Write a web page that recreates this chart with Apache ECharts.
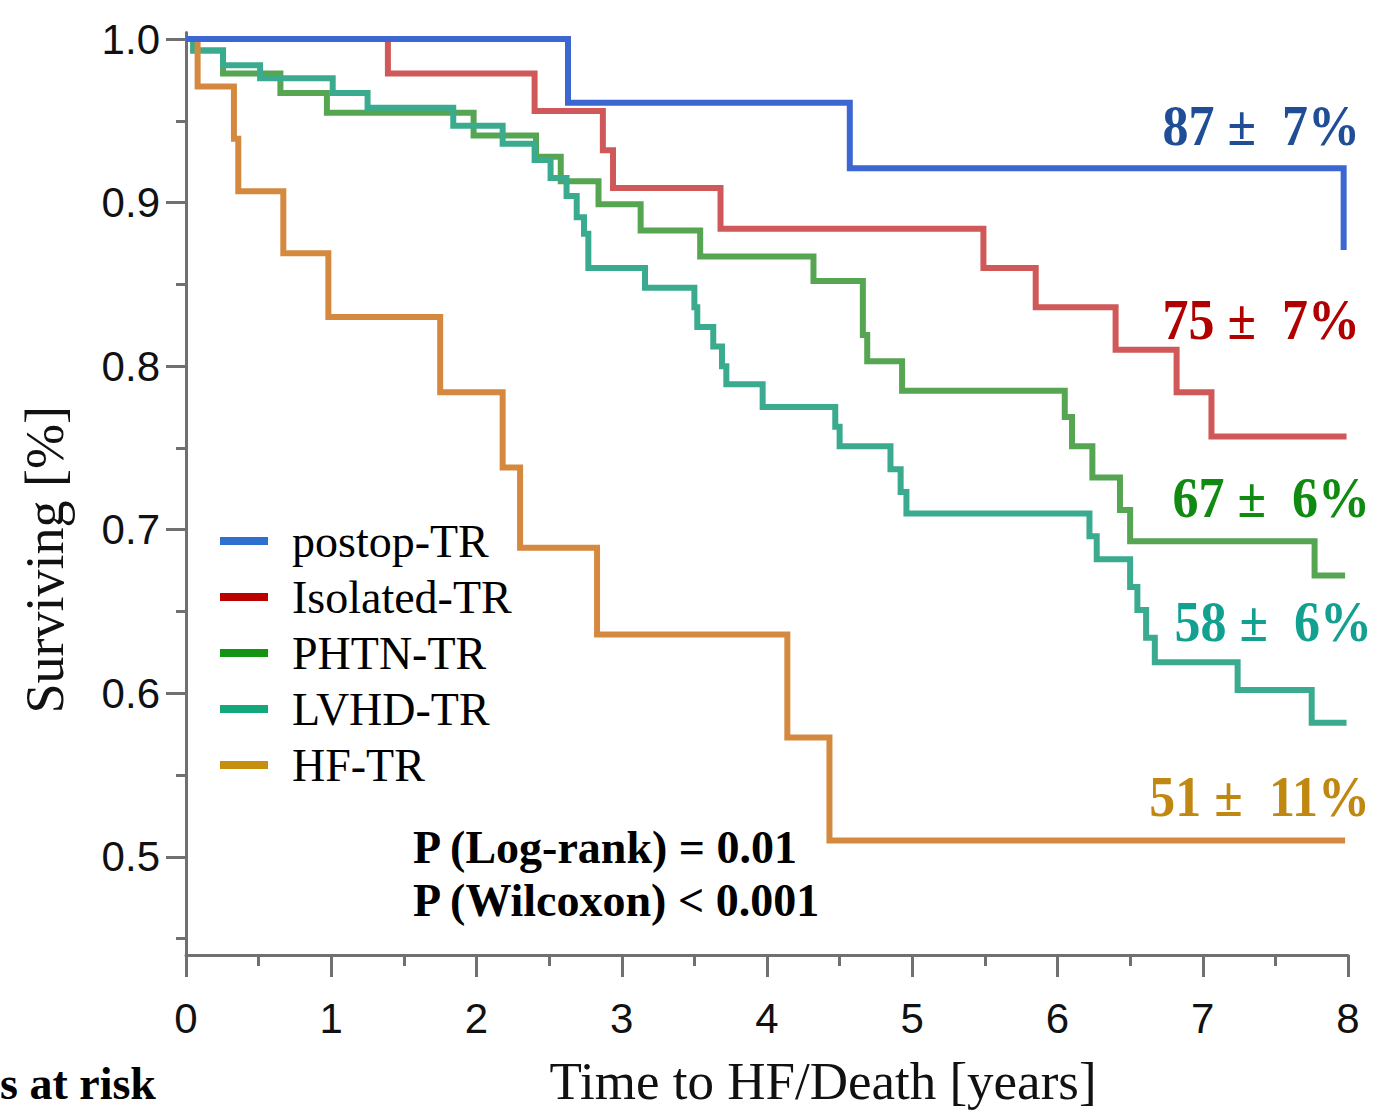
<!DOCTYPE html>
<html>
<head>
<meta charset="utf-8">
<script src="https://cdn.jsdelivr.net/npm/echarts@6/dist/echarts.min.js"></script>
<style>
html,body{margin:0;padding:0;background:#fff;}
#chart{width:1383px;height:1116px;}
</style>
</head>
<body>
<div id="chart"></div>
<script>
// ---- data ----
const categories = ['postop-TR', 'Isolated-TR', 'PHTN-TR', 'LVHD-TR', 'HF-TR'];

const postopTime = [0, 2.63, 4.57, 7.97];
const postopSurv = [1.0, 0.961, 0.921, 0.871];

const isolatedTime = [0, 1.39, 2.40, 2.87, 2.94, 3.68, 5.49, 5.85, 6.40, 6.82, 7.06, 7.99];
const isolatedSurv = [1.0, 0.979, 0.956, 0.932, 0.909, 0.884, 0.860, 0.836, 0.810, 0.784, 0.757, 0.757];

const phtnTime = [0, 0.05, 0.255, 0.65, 0.97, 1.98, 2.41, 2.58, 2.84, 3.13, 3.54, 4.32, 4.66, 4.69, 4.93, 6.05, 6.10, 6.24, 6.43, 6.50, 7.77, 7.98];
const phtnSurv = [1.0, 0.993, 0.979, 0.967, 0.955, 0.941, 0.928, 0.913, 0.899, 0.883, 0.867, 0.852, 0.819, 0.803, 0.785, 0.769, 0.751, 0.732, 0.712, 0.693, 0.672, 0.672];

const lvhdTime = [0, 0.05, 0.255, 0.51, 1.01, 1.25, 1.84, 2.18, 2.40, 2.51, 2.62, 2.69, 2.74, 2.77, 3.16, 3.50, 3.52, 3.63, 3.69, 3.72, 3.97, 4.47, 4.50, 4.85, 4.92, 4.96, 6.22, 6.27, 6.50, 6.55, 6.61, 6.67, 7.24, 7.75, 7.99];
const lvhdSurv = [1.0, 0.993, 0.984, 0.976, 0.967, 0.958, 0.947, 0.936, 0.926, 0.915, 0.904, 0.891, 0.881, 0.860, 0.848, 0.836, 0.824, 0.812, 0.800, 0.789, 0.775, 0.763, 0.751, 0.737, 0.723, 0.710, 0.696, 0.682, 0.665, 0.651, 0.634, 0.619, 0.602, 0.582, 0.582];

const hfTime = [0, 0.08, 0.33, 0.36, 0.67, 0.98, 1.75, 2.18, 2.30, 2.83, 4.14, 4.43, 7.98];
const hfSurv = [1.0, 0.971, 0.939, 0.907, 0.869, 0.830, 0.784, 0.738, 0.689, 0.636, 0.573, 0.510, 0.510];

const yLabelValues = [0.5, 0.6, 0.7, 0.8, 0.9, 1.0];
const yMinorValues = [0.45, 0.55, 0.65, 0.75, 0.85, 0.95];

const endLabels = ['87 ±\u00a0 7%', '75 ±\u00a0 7%', '67 ±\u00a0 6%', '58 ±\u00a0 6%', '51 ±\u00a0 11%'];
const pTexts = ['P (Log-rank) = 0.01', 'P (Wilcoxon) < 0.001'];
const riskText = 's at risk';
const xTitle = 'Time to HF/Death [years]';
const yTitle = 'Surviving [%]';

// ---- styling ----
const lineColors = ['#3c66d2', '#d05858', '#55a552', '#3aab8e', '#d4893f'];
const swatchColors = ['#2e6fd0', '#bb0000', '#139513', '#12a87c', '#c68f10'];
const labelColors = ['#1f4e96', '#b00000', '#118a11', '#12a090', '#c08810'];
const labelPos = [[1360, 126], [1360, 320], [1370, 498], [1372, 622], [1370, 797]];

const times = [postopTime, isolatedTime, phtnTime, lvhdTime, hfTime];
const survs = [postopSurv, isolatedSurv, phtnSurv, lvhdSurv, hfSurv];
const drawOrder = [1, 2, 3, 4, 0];

const axisGray = '#707070';
const serif = 'Liberation Serif';
const sans = 'Liberation Sans';

const series = drawOrder.map(i => ({
  name: categories[i],
  type: 'line',
  step: 'end',
  showSymbol: false,
  symbol: 'none',
  z: 3 + drawOrder.indexOf(i),
  lineStyle: { width: 6, color: lineColors[i], cap: 'butt', join: 'miter' },
  itemStyle: { color: lineColors[i] },
  data: times[i].map((t, k) => [t, survs[i][k]])
}));

const graphics = [];
endLabels.forEach((t, i) => {
  graphics.push({
    type: 'text', x: labelPos[i][0], y: labelPos[i][1], z: 100, scaleY: 1.08,
    style: { text: t, align: 'right', verticalAlign: 'middle', fill: labelColors[i],
             fontFamily: serif, fontWeight: 'bold', fontSize: 52 }
  });
});
pTexts.forEach((t, i) => {
  graphics.push({
    type: 'text', x: 413, y: 847 + i * 53, z: 100,
    style: { text: t, align: 'left', verticalAlign: 'middle', fill: '#000',
             fontFamily: serif, fontWeight: 'bold', fontSize: 46 }
  });
});
graphics.push({
  type: 'text', x: 0, y: 1083, z: 100,
  style: { text: riskText, align: 'left', verticalAlign: 'middle', fill: '#000',
           fontFamily: serif, fontWeight: 'bold', fontSize: 46 }
});

const chart = echarts.init(document.getElementById('chart'), null, { renderer: 'svg' });
chart.setOption({
  animation: false,
  backgroundColor: '#fff',
  grid: { left: 186, right: 35, top: 32.5, bottom: 161, containLabel: false },
  legend: {
    orient: 'vertical',
    left: 220,
    top: 518,
    padding: 0,
    itemWidth: 48,
    itemHeight: 8,
    itemGap: 10,
    icon: 'rect',
    selectedMode: false,
    textStyle: { fontFamily: serif, fontSize: 46, lineHeight: 44, color: '#000', padding: [0, 0, 0, 19] },
    data: categories.map((c, i) => ({ name: c, icon: 'rect', itemStyle: { color: swatchColors[i] } }))
  },
  xAxis: {
    type: 'value', min: 0, max: 8, interval: 1,
    name: xTitle, nameLocation: 'middle', nameGap: 99,
    nameTextStyle: { fontFamily: serif, fontSize: 53, color: '#111', padding: [0, 0, 0, 112] },
    axisLine: { show: true, onZero: false, lineStyle: { color: axisGray, width: 3 } },
    axisTick: { show: true, inside: false, length: 22, lineStyle: { color: axisGray, width: 3 } },
    minorTick: { show: true, splitNumber: 2, length: 11, lineStyle: { color: axisGray, width: 3 } },
    splitLine: { show: false },
    minorSplitLine: { show: false },
    axisLabel: { margin: 42, fontFamily: sans, fontSize: 42, color: '#111' }
  },
  yAxis: [{
    type: 'value', min: 0.44, max: 1.004, position: 'left',
    name: yTitle, nameLocation: 'middle', nameGap: 114, nameRotate: 90,
    nameTextStyle: { fontFamily: serif, fontSize: 54, color: '#111', padding: [0, 132, 0, 0] },
    axisLine: { show: true, onZero: false, lineStyle: { color: axisGray, width: 3 } },
    axisTick: { show: true, inside: false, length: 20, customValues: yLabelValues, lineStyle: { color: axisGray, width: 3 } },
    splitLine: { show: false },
    axisLabel: { margin: 26, fontFamily: sans, fontSize: 42, color: '#111', customValues: yLabelValues,
                 formatter: v => v.toFixed(1) }
  }, {
    type: 'value', min: 0.44, max: 1.004, position: 'left', offset: 0,
    axisLine: { show: false },
    axisTick: { show: true, inside: false, length: 10, customValues: yMinorValues, lineStyle: { color: axisGray, width: 3 } },
    axisLabel: { show: false },
    splitLine: { show: false }
  }],
  series: series,
  graphic: graphics
});
</script>
</body>
</html>
